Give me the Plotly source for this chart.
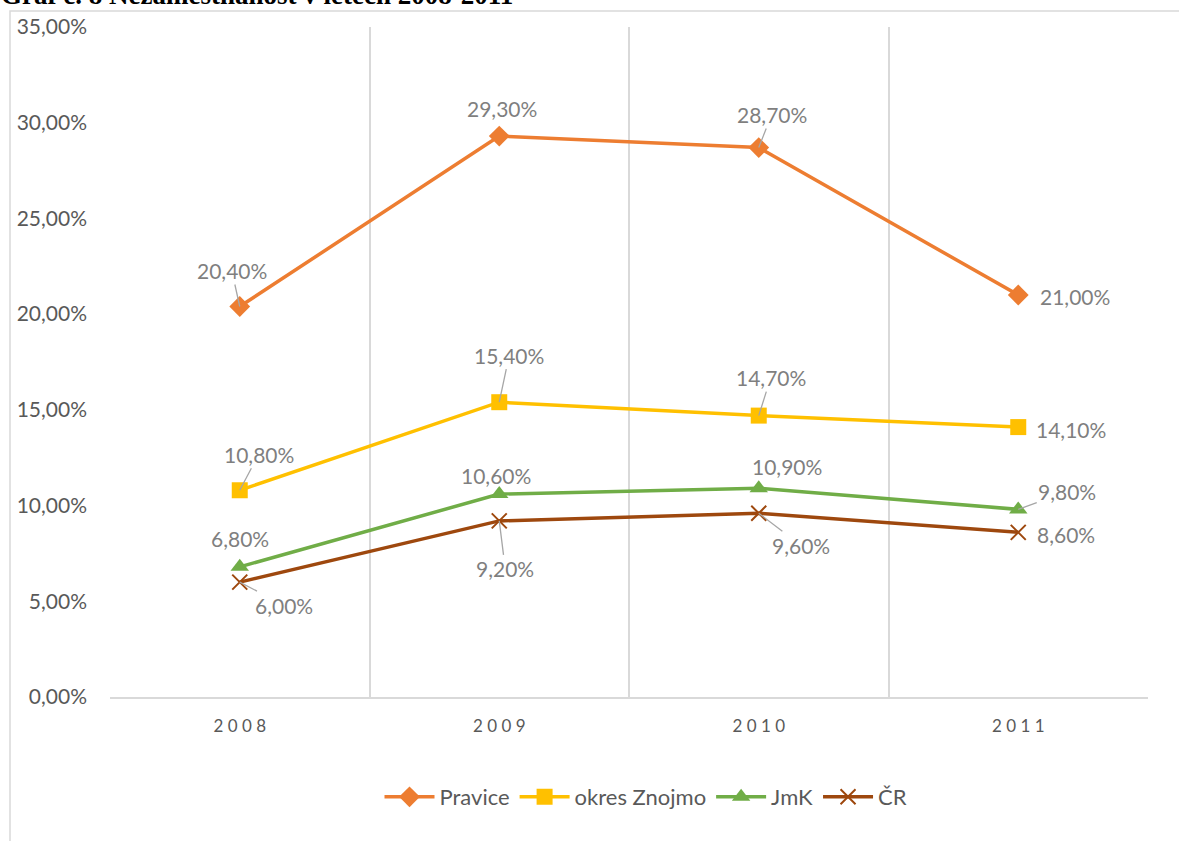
import plotly.graph_objects as go

# ---- data ----
years = ["2008", "2009", "2010", "2011"]
pravice = [20.4, 29.3, 28.7, 21.0]
znojmo = [10.8, 15.4, 14.7, 14.1]
jmk = [6.8, 10.6, 10.9, 9.8]
cr = [6.0, 9.2, 9.6, 8.6]
series_names = ["Pravice", "okres Znojmo", "JmK", "ČR"]
y_ticks = [0, 5, 10, 15, 20, 25, 30, 35]
title_text = "Graf č. 8 Nezaměstnanost v letech 2008-2011"

# ---- styles ----
colors = ["#ED7D31", "#FFC000", "#70AD47", "#9E480E"]
symbols = ["diamond", "square", "triangle-up", "x-thin"]
msizes = [16, 16, 16, 15]
# label offsets (px) and whether a leader line is shown
label_offsets = [
    [(-8, -36, True), (3, -28, False), (13, -33, True), (57, 1, False)],
    [(19, -36, True), (10, -47, True), (12, -38, True), (53, 2, False)],
    [(0, -28, False), (-3, -19, False), (28, -22, False), (49, -18, True)],
    [(44, 23, True), (6, 48, True), (42, 32, True), (48, 2, False)],
]

FONT = "Lato, 'Open Sans', sans-serif"
PL, PR, PT, PB = 110, 1148, 27, 697
PW, PH = PR - PL, PB - PT
xs = list(range(len(years)))
all_series = [pravice, znojmo, jmk, cr]

fig = go.Figure()
for name, vals, col, sym, ms in zip(series_names, all_series, colors, symbols, msizes):
    fig.add_trace(go.Scatter(
        x=xs, y=vals, name=name, mode="lines+markers",
        line=dict(color=col, width=3.5),
        marker=dict(symbol=sym, size=ms, color=col,
                    line=dict(color=col, width=2 if sym == "x-thin" else 0)),
    ))

def fmt(v):
    return f"{v:.2f}".replace(".", ",") + "%"

for si, vals in enumerate(all_series):
    for i, v in enumerate(vals):
        ax, ay, leader = label_offsets[si][i]
        fig.add_annotation(
            x=xs[i], y=v, text=fmt(v), showarrow=True,
            ax=ax, ay=ay, arrowhead=0, arrowwidth=1.3, standoff=0,
            arrowcolor="#A6A6A6" if leader else "rgba(0,0,0,0)",
            font=dict(family=FONT, size=21, color="#7F7F7F"),
            xanchor="center", yanchor="middle",
        )

# clipped title at top
fig.add_annotation(
    text="<b>" + title_text + "</b>", xref="paper", yref="paper",
    x=-PL / PW, y=1 + (PT - 11) / PH, xanchor="left", yanchor="bottom", showarrow=False,
    borderpad=0,
    font=dict(family="'Liberation Serif', 'Times New Roman', serif", size=27, color="#000000"),
)

# outer chart frame
fig.add_shape(type="rect", xref="paper", yref="paper",
              x0=(10 - PL) / PW, x1=1.2, y0=-0.5, y1=1 + (PT - 11) / PH,
              line=dict(color="#D9D9D9", width=1.5), layer="below")

fig.update_layout(
    width=1179, height=841,
    margin=dict(l=PL, r=1179 - PR, t=PT, b=841 - PB),
    paper_bgcolor="white", plot_bgcolor="white",
    showlegend=True,
    legend=dict(orientation="h", x=(646 - PL) / PW, y=-(797 - PB) / PH,
                xanchor="center", yanchor="middle",
                font=dict(family=FONT, size=22, color="#595959"),
                itemwidth=50, tracegroupgap=0),
    xaxis=dict(
        range=[-0.5, 3.5], tickvals=xs,
        ticktext=[" ".join(list(y)) for y in years],
        showgrid=False, zeroline=False, ticks="",
        showline=True, linecolor="#D9D9D9", linewidth=1.5, mirror=False,
        tickfont=dict(family=FONT, size=17, color="#595959"),
        ticklabelstandoff=13,
        minor=dict(tickvals=[-0.5, 0.5, 1.5, 2.5, 3.5], showgrid=True,
                   gridcolor="#D9D9D9", gridwidth=1.5, ticks=""),
    ),
    yaxis=dict(
        range=[0, 35], tickvals=y_ticks,
        ticktext=[fmt(t) for t in y_ticks],
        showgrid=False, zeroline=False, ticks="",
        showline=False,
        tickfont=dict(family=FONT, size=21, color="#595959"),
        ticklabelstandoff=22,
    ),
)

fig.write_html("out.html", config={"displayModeBar": False},
               post_script="document.body.style.margin='0';document.body.style.overflow='hidden';")
